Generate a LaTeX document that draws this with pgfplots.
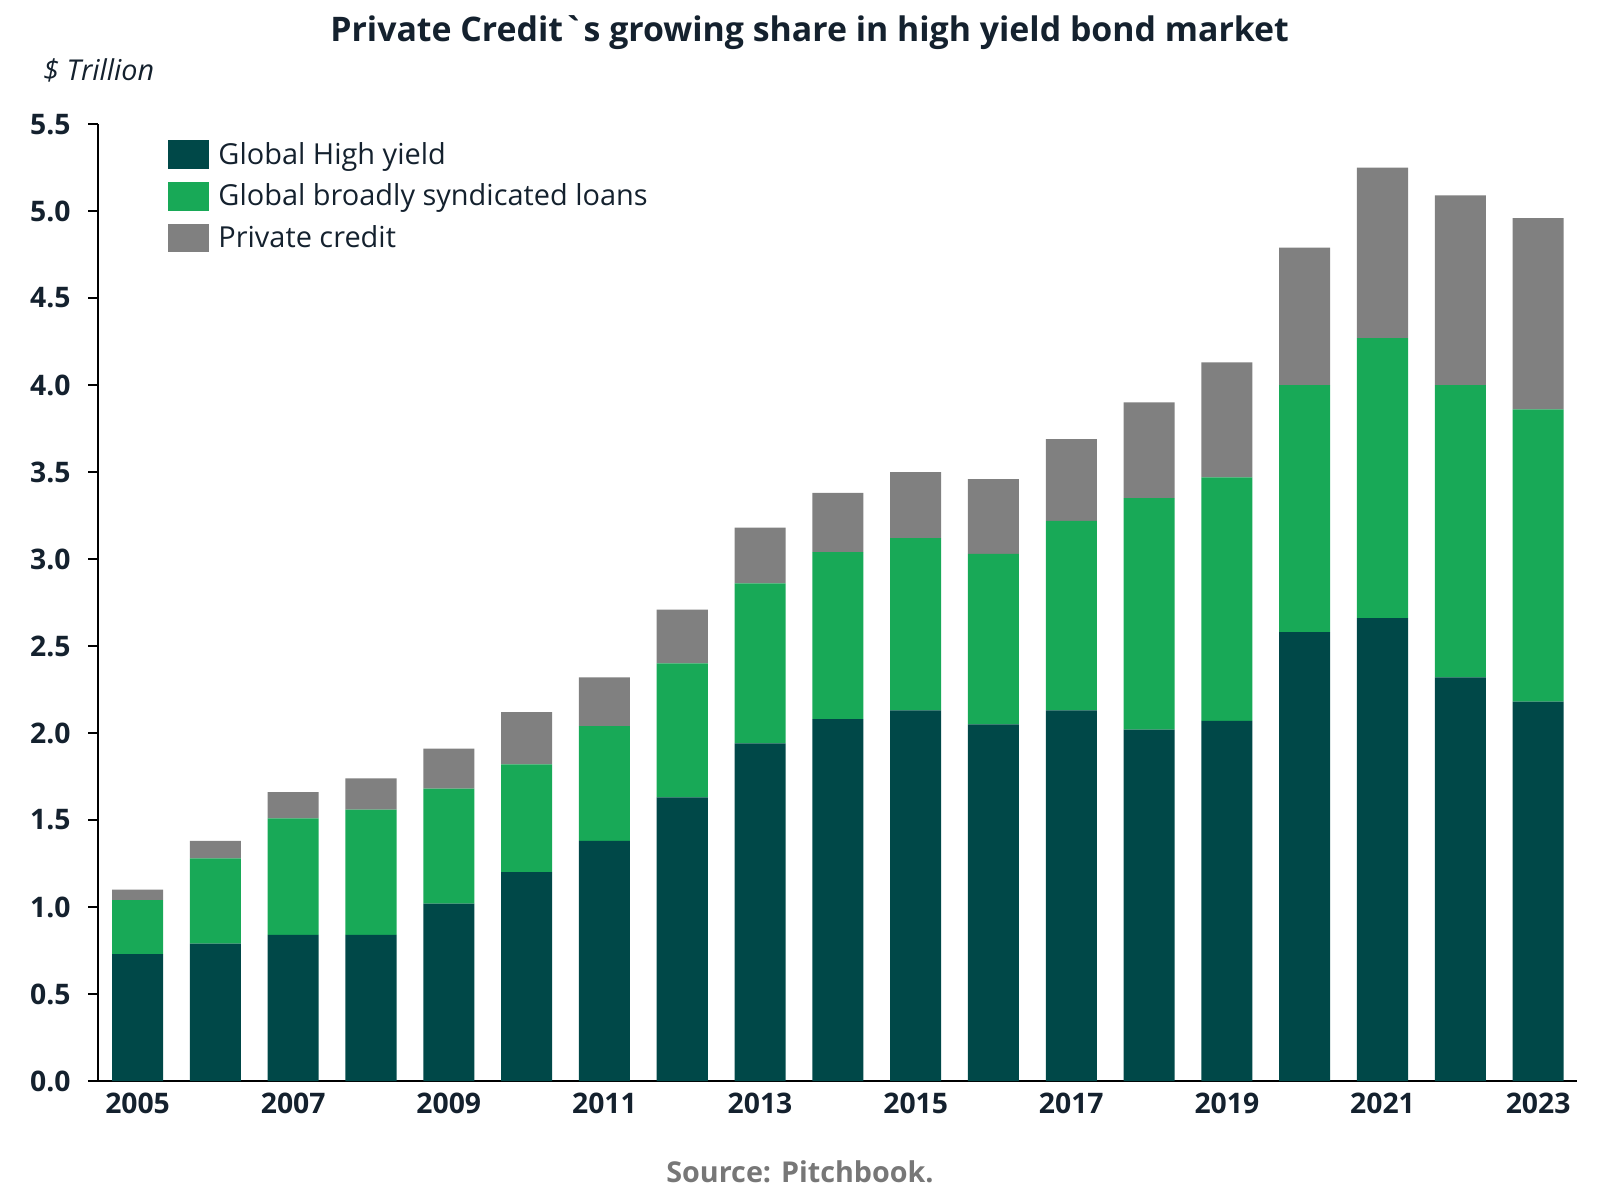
\documentclass[border=0pt]{standalone}
\usepackage{pgfplots}
\pgfplotsset{compat=1.18}
\usepackage{fontspec}
\setmainfont{Open Sans}

\definecolor{hyteal}{HTML}{004848}
\definecolor{bslgreen}{HTML}{18A957}
\definecolor{pcgray}{HTML}{808080}
\definecolor{ink}{HTML}{14212E}
\definecolor{srcgray}{HTML}{777777}

% plain grave accent, bypassing the TeX quote ligature
\newcommand*{\plaingrave}{\XeTeXglyph\XeTeXcharglyph"60\relax}

\begin{document}
\begin{tikzpicture}
  % 1px of the 1600x1200 reference = 0.4875pt
  \path[use as bounding box] (-47.8pt,-58pt) rectangle (732.2pt,527pt);
  \begin{axis}[
      at={(0,0)}, anchor=south west,
      scale only axis,
      width=721pt, height=466.5pt,
      ybar stacked,
      bar width=0.656,
      xmin=2004.492, xmax=2023.5,
      ymin=0, ymax=5.5,
      axis x line=bottom,
      axis y line=left,
      axis line style={-, black, line width=0.9pt},
      xtick={2005,2007,...,2023},
      xtick style={draw=none},
      ytick={0,0.5,...,5.5},
      tick align=outside,
      major tick length=4.9pt,
      ytick style={black, line width=0.6pt},
      /pgf/number format/assume math mode=true,
      xticklabel style={/pgf/number format/set thousands separator={}, font=\fontsize{13.8}{15}\selectfont\bfseries, text=ink, yshift=2.5pt},
      yticklabel style={/pgf/number format/.cd, fixed, fixed zerofill, precision=1, /tikz/.cd, font=\fontsize{13.8}{15}\selectfont\bfseries, text=ink, xshift=-5pt},
      legend style={draw=none, fill=none, at={(0.043,0.99)}, anchor=north west,
        font=\fontsize{14.1}{16}\selectfont, text=ink, row sep=4.1pt,
        /tikz/every even column/.append style={column sep=0pt}},
      legend cell align=left,
      clip=false,
    ]
    \addplot+[fill=hyteal, draw=none,
      legend image code/.code={\fill[hyteal] (0pt,-7pt) rectangle (20pt,7pt); \path (22.5pt,0);}]
      coordinates {
      (2005,0.73) (2006,0.79) (2007,0.84) (2008,0.84) (2009,1.02) (2010,1.20)
      (2011,1.38) (2012,1.63) (2013,1.94) (2014,2.08) (2015,2.13) (2016,2.05)
      (2017,2.13) (2018,2.02) (2019,2.07) (2020,2.58) (2021,2.66) (2022,2.32)
      (2023,2.18)};
    \addlegendentry{Global High yield}
    \addplot+[fill=bslgreen, draw=none,
      legend image code/.code={\fill[bslgreen] (0pt,-7pt) rectangle (20pt,7pt); \path (22.5pt,0);}]
      coordinates {
      (2005,0.31) (2006,0.49) (2007,0.67) (2008,0.72) (2009,0.66) (2010,0.62)
      (2011,0.66) (2012,0.77) (2013,0.92) (2014,0.96) (2015,0.99) (2016,0.98)
      (2017,1.09) (2018,1.33) (2019,1.40) (2020,1.42) (2021,1.61) (2022,1.68)
      (2023,1.68)};
    \addlegendentry{Global broadly syndicated loans}
    \addplot+[fill=pcgray, draw=none,
      legend image code/.code={\fill[pcgray] (0pt,-7pt) rectangle (20pt,7pt); \path (22.5pt,0);}]
      coordinates {
      (2005,0.06) (2006,0.10) (2007,0.15) (2008,0.18) (2009,0.23) (2010,0.30)
      (2011,0.28) (2012,0.31) (2013,0.32) (2014,0.34) (2015,0.38) (2016,0.43)
      (2017,0.47) (2018,0.55) (2019,0.66) (2020,0.79) (2021,0.98) (2022,1.09)
      (2023,1.10)};
    \addlegendentry{Private credit}
  \end{axis}
  % x axis line runs a little past the y axis
  \draw[black, line width=0.9pt] (-4.9pt,0) -- (0.5pt,0);
  \node[font=\fontsize{16.5}{19}\selectfont\bfseries, text=ink] at (346.9pt,511pt)
    {Private Credit\plaingrave s growing share in high yield bond market};
  \node[font=\fontsize{14}{16}\selectfont\itshape, text=ink, anchor=west, inner sep=0pt]
    at (-26.8pt,492.9pt) {\$ Trillion};
  \node[font=\fontsize{14}{16}\selectfont\bfseries, text=srcgray] at (342.2pt,-44.4pt)
    {Source: Pitchbook.};
\end{tikzpicture}
\end{document}
